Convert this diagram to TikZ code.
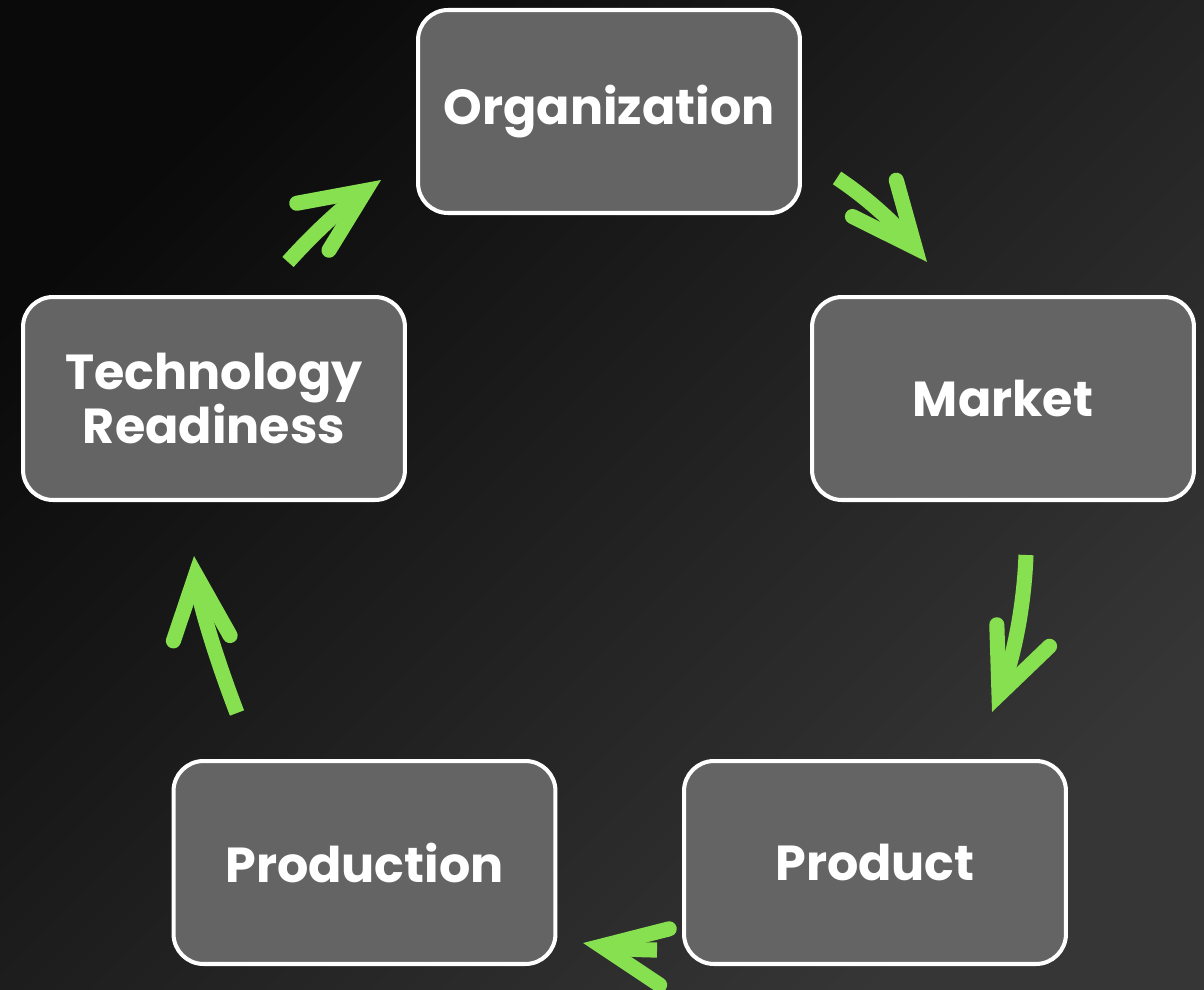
\documentclass[tikz,border=0pt]{standalone}
\usepackage{fontspec}
\setmainfont{Poppins}
\usetikzlibrary{arrows.meta,calc}

% Chevron head: two strokes meeting in a sharp (mitred) tip, rounded outer ends
\pgfdeclarearrow{
  name=Chevron,
  parameters={\the\pgfarrowlength,\the\pgfarrowwidth},
  setup code={
    \pgfarrowssettipend{10.6pt}
    \pgfarrowssetlineend{-3pt}
    \pgfarrowssavethe\pgfarrowlength
    \pgfarrowssavethe\pgfarrowwidth
  },
  drawing code={
    \pgfsetroundcap
    \pgfsetmiterjoin
    \pgfpathmoveto{\pgfqpoint{-\pgfarrowlength}{.5\pgfarrowwidth}}
    \pgfpathlineto{\pgfpointorigin}
    \pgfpathlineto{\pgfqpoint{-\pgfarrowlength}{-.5\pgfarrowwidth}}
    \pgfusepathqstroke
  },
  defaults={length=36.4pt,width=32.4pt}
}

\definecolor{boxfill}{HTML}{646464}
\definecolor{flowgreen}{HTML}{86E04F}
\definecolor{bgdark}{HTML}{0A0A0A}
\definecolor{bglight}{HTML}{363636}

\begin{document}
\begin{tikzpicture}[x=0.02cm,y=0.02cm,
  stage/.style={draw=white, line width=2.3pt, fill=boxfill, rounded corners=0.6cm,
    minimum width=7.64cm, minimum height=4.06cm, inner sep=0pt, outer sep=0pt,
    text=white, align=center, font=\fontsize{28}{28.5}\selectfont\bfseries},
  flow/.style={draw=flowgreen, line width=8.6pt, -{Chevron}}]

  % dark diagonal backdrop
  \useasboundingbox (0,0) rectangle (1204,-990);
  \shade[top color=bgdark, bottom color=bglight, shading angle=45]
    (0,0) rectangle (1204,-990);

  % free ends of the cycle arrows
  \coordinate (a1s) at (288,-262);  \coordinate (a1c) at (330,-215);    \coordinate (a1e) at (381,-180);
  \coordinate (a2s) at (837,-178);  \coordinate (a2c) at (881.5,-207);  \coordinate (a2e) at (927,-262);
  \coordinate (a3s) at (1026,-555); \coordinate (a3c) at (1023,-636);   \coordinate (a3e) at (992,-712);
  \coordinate (a4s) at (657,-950);  \coordinate (a4c) at (624,-950);    \coordinate (a4e) at (583,-943);
  \coordinate (a5s) at (237,-713);  \coordinate (a5c) at (199.6,-615.4); \coordinate (a5e) at (194,-556);

  \foreach \a in {a1,a2,a3,a4,a5}{
    \draw[flow] (\a s) .. controls ($(\a s)!.667!(\a c)$) and ($(\a e)!.667!(\a c)$) .. (\a e);
  }

  % stages of the cycle
  \node[stage] (org)   at (609,-111.5)   {Organization};
  \node[stage] (mkt)   at (1003,-398.5)  {Market};
  \node[stage] (tech)  at (214,-398.5)   {Technology\\Readiness};
  \node[stage] (prodn) at (364.5,-862.5) {Production};
  \node[stage] (prod)  at (875,-862.5)   {Product};
\end{tikzpicture}
\end{document}
